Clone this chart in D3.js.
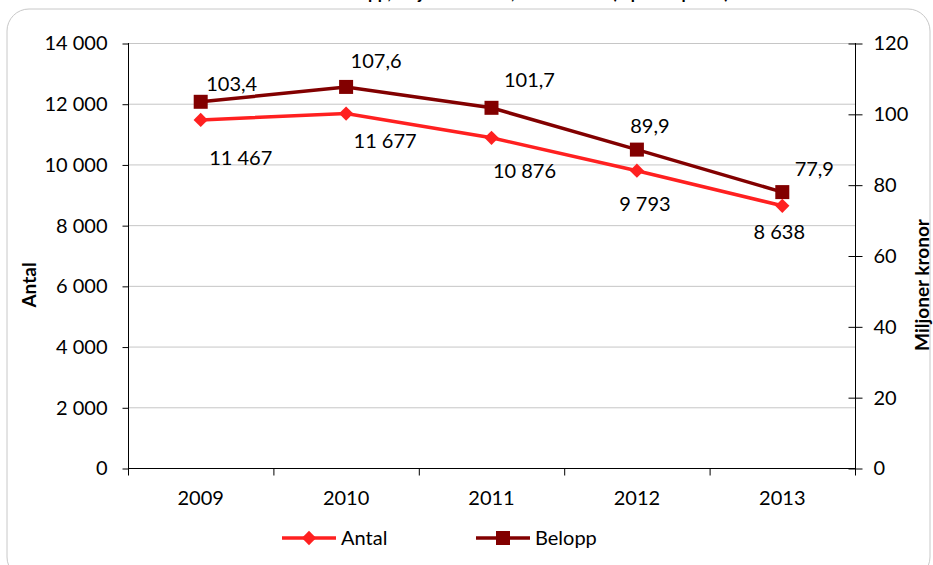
<!DOCTYPE html>
<html>
<head>
<meta charset="utf-8">
<script src="https://cdn.jsdelivr.net/npm/d3@7"></script>
<style>
  body { margin: 0; background: #fff; }
  svg { display: block; font-family: Lato, "Open Sans", sans-serif; }
</style>
</head>
<body>
<svg id="chart" width="933" height="565"></svg>
<script>
const years = ['2009', '2010', '2011', '2012', '2013'];
const antal = [11467, 11677, 10876, 9793, 8638];
const belopp = [103.4, 107.6, 101.7, 89.9, 77.9];
const antalLabels = ['11 467', '11 677', '10 876', '9 793', '8 638'];
const beloppLabels = ['103,4', '107,6', '101,7', '89,9', '77,9'];
const leftTicks = [0, 2000, 4000, 6000, 8000, 10000, 12000, 14000];
const rightTicks = [0, 20, 40, 60, 80, 100, 120];

const svg = d3.select('#chart');
const plotLeft = 128, plotRight = 855, plotTop = 43, plotBottom = 468;

// frame round the whole chart
svg.append('rect')
    .attr('x', 7).attr('y', 9)
    .attr('width', 923).attr('height', 570)
    .attr('rx', 22)
    .attr('fill', 'none')
    .attr('stroke', '#c8c8c8')
    .attr('stroke-width', 1);

// title, mostly cut off at the top
svg.append('text')
    .attr('x', 462).attr('y', -1)
    .attr('text-anchor', 'middle')
    .attr('font-size', 17).attr('font-weight', 'bold')
    .text('Antal och utbetalt belopp, miljoner kronor, 2009–2013 (löpande priser)');

const x = d3.scaleBand().domain(years).range([plotLeft, plotRight]);
const yL = d3.scaleLinear().domain([0, 14000]).range([plotBottom, plotTop]);
const yR = d3.scaleLinear().domain([0, 120]).range([plotBottom, plotTop]);

const fmt = d => d3.format(',')(d).replace(/,/g, ' ');

// gridlines
svg.append('g')
    .selectAll('line')
    .data(leftTicks.filter(d => d > 0))
    .join('line')
    .attr('x1', plotLeft).attr('x2', plotRight)
    .attr('y1', d => yL(d) + 0.5).attr('y2', d => yL(d) + 0.5)
    .attr('stroke', '#c6c6c6');

// left axis
const gL = svg.append('g')
    .attr('transform', `translate(${plotLeft + 0.5},0.5)`)
    .call(d3.axisLeft(yL).tickValues(leftTicks).tickFormat(fmt).tickSize(6).tickPadding(15));

// right axis, ticks cross the line
const gR = svg.append('g')
    .attr('transform', `translate(${plotRight + 0.5},0.5)`)
    .call(d3.axisRight(yR).tickValues(rightTicks).tickSize(7).tickPadding(11));
gR.selectAll('.tick line').attr('x1', -7);

// bottom axis, ticks at category boundaries
const gB = svg.append('g')
    .attr('transform', `translate(0,${plotBottom + 0.5})`)
    .call(d3.axisBottom(x).tickSize(0).tickPadding(22));
gB.selectAll('.tick line').remove();
gB.selectAll('.bound')
    .data(years.concat(['end']))
    .join('line')
    .attr('x1', (d, i) => plotLeft + i * x.bandwidth() + 0.5)
    .attr('x2', (d, i) => plotLeft + i * x.bandwidth() + 0.5)
    .attr('y1', 0).attr('y2', 7)
    .attr('stroke', '#000');

[gL, gR, gB].forEach(g => {
    g.select('.domain').remove();
    g.selectAll('text').attr('font-size', 20).attr('font-family', 'Lato, sans-serif').attr('fill', '#000');
    g.selectAll('.tick line').attr('stroke', '#000');
});
svg.append('line').attr('x1', plotLeft + 0.5).attr('x2', plotLeft + 0.5).attr('y1', plotTop).attr('y2', plotBottom + 1).attr('stroke', '#000');
svg.append('line').attr('x1', plotRight + 0.5).attr('x2', plotRight + 0.5).attr('y1', plotTop).attr('y2', plotBottom + 1).attr('stroke', '#000');
svg.append('line').attr('x1', plotLeft).attr('x2', plotRight + 1).attr('y1', plotBottom + 0.5).attr('y2', plotBottom + 0.5).attr('stroke', '#000');

// axis titles
svg.append('text')
    .attr('transform', 'translate(36,285) rotate(-90)')
    .attr('text-anchor', 'middle')
    .attr('font-size', 19).attr('font-weight', 'bold')
    .text('Antal');
svg.append('text')
    .attr('transform', 'translate(929,285) rotate(-90)')
    .attr('text-anchor', 'middle')
    .attr('font-size', 19).attr('font-weight', 'bold')
    .text('Miljoner kronor');

const cx = d => x(d) + x.bandwidth() / 2;
const red = '#ff2020', dark = '#820000';

// Belopp line
svg.append('path')
    .datum(belopp)
    .attr('fill', 'none').attr('stroke', dark).attr('stroke-width', 3.5)
    .attr('d', d3.line().x((d, i) => cx(years[i])).y(d => yR(d)));
svg.selectAll('.sq')
    .data(belopp)
    .join('rect')
    .attr('x', (d, i) => cx(years[i]) - 7)
    .attr('y', d => yR(d) - 7)
    .attr('width', 14).attr('height', 14)
    .attr('fill', dark);

// Antal line
svg.append('path')
    .datum(antal)
    .attr('fill', 'none').attr('stroke', red).attr('stroke-width', 3.5)
    .attr('d', d3.line().x((d, i) => cx(years[i])).y(d => yL(d)));
svg.selectAll('.dm')
    .data(antal)
    .join('path')
    .attr('d', d3.symbol(d3.symbolDiamond2, 130))
    .attr('transform', (d, i) => `translate(${cx(years[i])},${yL(d)})`)
    .attr('fill', red);

// data labels (offset from marker)
const antalOff = [[40, 45], [39, 34], [33, 40], [8, 40], [-3, 33]];
svg.selectAll('.al')
    .data(antal)
    .join('text')
    .attr('x', (d, i) => cx(years[i]) + antalOff[i][0])
    .attr('y', (d, i) => yL(d) + antalOff[i][1])
    .attr('text-anchor', 'middle')
    .attr('font-size', 20)
    .text((d, i) => antalLabels[i]);

const beloppOff = [[31, -11], [30, -19], [38, -21], [13, -17], [32, -16]];
svg.selectAll('.bl')
    .data(belopp)
    .join('text')
    .attr('x', (d, i) => cx(years[i]) + beloppOff[i][0])
    .attr('y', (d, i) => yR(d) + beloppOff[i][1])
    .attr('text-anchor', 'middle')
    .attr('font-size', 20)
    .text((d, i) => beloppLabels[i]);

// legend
const legend = [
    { name: 'Antal', color: red, x: 282, sym: 'diamond' },
    { name: 'Belopp', color: dark, x: 476, sym: 'square' }
];
const lg = svg.selectAll('.lg')
    .data(legend)
    .join('g')
    .attr('transform', d => `translate(${d.x},538)`);
lg.append('line')
    .attr('x1', 0).attr('x2', 54)
    .attr('stroke', d => d.color).attr('stroke-width', 3.5);
lg.append('path')
    .attr('d', d => d.sym === 'diamond'
        ? d3.symbol(d3.symbolDiamond2, 130)()
        : 'M-7,-7h14v14h-14z')
    .attr('transform', 'translate(27,0)')
    .attr('fill', d => d.color);
lg.append('text')
    .attr('x', 59).attr('y', 7)
    .attr('font-size', 20)
    .text(d => d.name);
</script>
</body>
</html>
